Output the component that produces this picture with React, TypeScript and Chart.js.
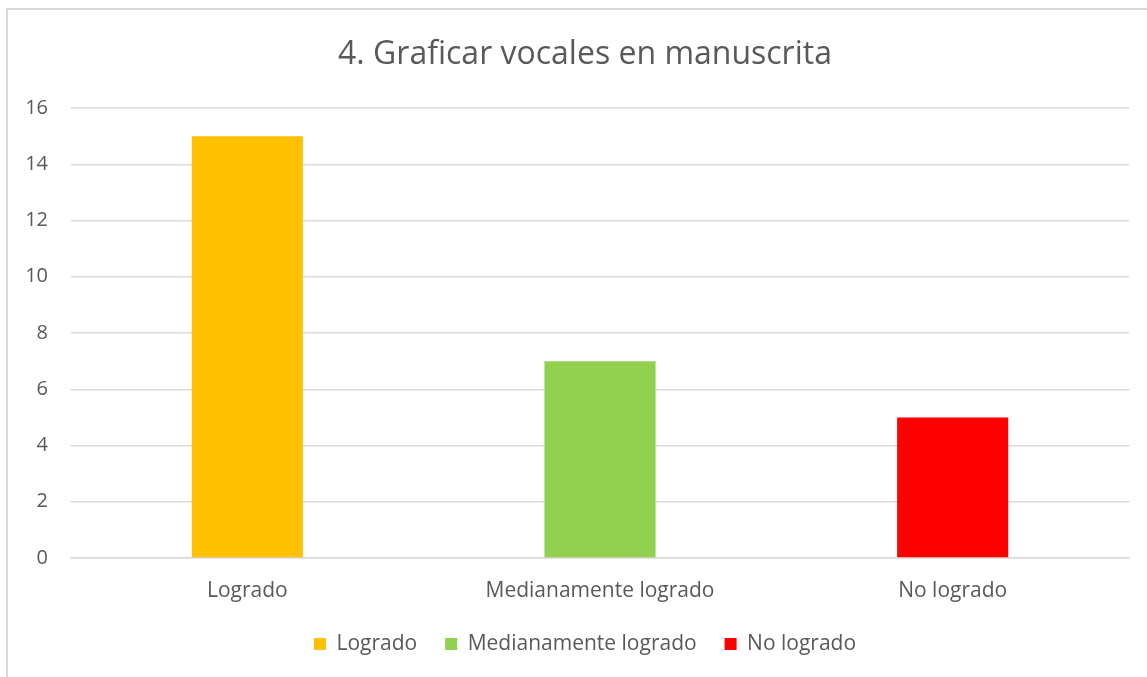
import React, { useEffect, useRef } from "react";
import { Chart, registerables } from "chart.js";

Chart.register(...registerables);

const categories = ["Logrado", "Medianamente logrado", "No logrado"];
const values = [15, 7, 5];
const barColors = ["#FFC000", "#92D050", "#FF0000"];
const titleText = "4. Graficar vocales en manuscrita";
const FONT = "'Open Sans', sans-serif";
const W = 1170;
const H = 677;

export default function App() {
  const ref = useRef<HTMLCanvasElement | null>(null);

  useEffect(() => {
    document.body.style.overflow = "hidden";
    const chart = new Chart(ref.current as HTMLCanvasElement, {
      type: "bar",
      data: {
        labels: categories,
        datasets: [
          {
            data: values,
            backgroundColor: barColors,
            borderWidth: 0,
            barPercentage: 0.315,
            categoryPercentage: 1,
            yAxisID: "y",
          },
        ],
      },
      options: {
        animation: false,
        responsive: false,
        maintainAspectRatio: false,
        layout: { padding: { left: 0, right: 0, top: 0, bottom: 12.5 } },
        plugins: {
          tooltip: { enabled: false },
          title: {
            display: true,
            text: titleText,
            color: "#595959",
            font: { family: FONT, size: 32, weight: "normal" },
            padding: { top: 36, bottom: 33.6 },
          },
          legend: {
            position: "bottom",
            labels: {
              color: "#595959",
              font: { family: FONT, size: 21 },
              boxWidth: 12,
              boxHeight: 12,
              padding: 28,
              generateLabels: () =>
                categories.map((c, i) => ({
                  text: c,
                  fillStyle: barColors[i],
                  strokeStyle: barColors[i],
                  lineWidth: 0,
                  hidden: false,
                  datasetIndex: 0,
                  index: i,
                  fontColor: "#595959",
                })),
            },
          },
        },
        scales: {
          x: {
            grid: { display: false, drawTicks: false },
            border: { display: true, color: "#d9d9d9", width: 1.5 },
            afterFit: (s: any) => {
              s.height = 47.5;
              s._computeLabelArea = () => undefined;
            },
            ticks: {
              color: "#595959",
              font: { family: FONT, size: 21 },
              padding: 20.4,
              maxRotation: 0,
            },
          },
          y: {
            min: 0,
            max: 16,
            afterFit: (s: any) => {
              s.width = 71;
            },
            ticks: {
              stepSize: 2,
              color: "#595959",
              font: { family: FONT, size: 20 },
              padding: 23,
            },
            grid: { color: "#d9d9d9", lineWidth: 1.5, drawTicks: false },
            border: { display: false },
          },
          yRight: {
            position: "right",
            display: true,
            grid: { display: false, drawTicks: false },
            border: { display: false },
            ticks: { display: false },
            afterFit: (s: any) => {
              s.width = W - 1129;
            },
          },
        },
      },
    });
    return () => chart.destroy();
  }, []);

  return (
    <div
      style={{
        position: "fixed",
        left: 0,
        top: 0,
        width: 1147,
        height: 677,
        overflow: "hidden",
        background: "#fff",
      }}
    >
      <div
        style={{
          position: "absolute",
          left: 6,
          top: 8,
          width: 1200,
          height: 720,
          border: "2px solid #d9d9d9",
          boxSizing: "border-box",
        }}
      />
      <canvas
        ref={ref}
        width={W}
        height={H}
        style={{ position: "absolute", left: 0, top: 0, width: W, height: H }}
      />
    </div>
  );
}
